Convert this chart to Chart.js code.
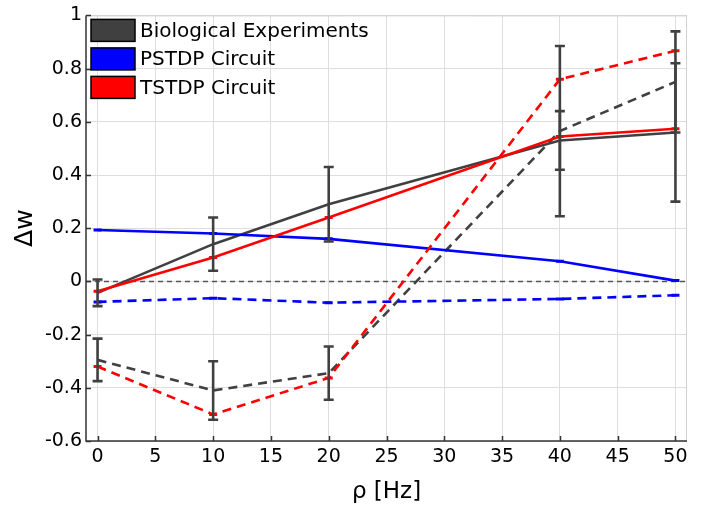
<!DOCTYPE html>
<html>
<head>
<meta charset="utf-8">
<script src="https://cdn.jsdelivr.net/npm/chart.js@4/dist/chart.umd.min.js"></script>
<style>
  html, body { margin: 0; padding: 0; background: #fff; }
  #wrap { width: 710px; height: 510px; }
</style>
</head>
<body>
<div id="wrap"><canvas id="chart" width="710" height="510"></canvas></div>
<script>
// DADOS
const freqs = [0, 10, 20, 40, 50];
const xTicks = [0, 5, 10, 15, 20, 25, 30, 35, 40, 45, 50];
const yTicks = [-0.6, -0.4, -0.2, 0, 0.2, 0.4, 0.6, 0.8, 1];

const bioSolid = [-0.043, 0.14, 0.29, 0.53, 0.56];
const bioSolidErr = [0.05, 0.10, 0.14, 0.11, 0.26];
const bioDashed = [-0.295, -0.41, -0.345, 0.565, 0.75];
const bioDashedErr = [0.08, 0.11, 0.10, 0.32, 0.19];

const pstdpSolid = [0.193, 0.18, 0.16, 0.076, 0.003];
const pstdpDashed = [-0.077, -0.063, -0.08, -0.066, -0.052];

const tstdpSolid = [-0.037, 0.09, 0.24, 0.545, 0.574];
const tstdpDashed = [-0.32, -0.50, -0.363, 0.76, 0.867];

const legendLabels = ['Biological Experiments', 'PSTDP Circuit', 'TSTDP Circuit'];

const GRAY = '#404040';
const BLUE = '#0000ff';
const RED = '#ff0000';
const FONT = 'DejaVu Sans';

const pts = (vals) => freqs.map((f, i) => ({ x: f, y: vals[i] }));

const serie = (vals, color, dashed, order, marker) => ({
  data: pts(vals),
  borderColor: color,
  backgroundColor: color,
  borderWidth: 2.6,
  borderDash: dashed ? [9, 6] : [],
  pointStyle: 'line',
  pointRadius: marker ? 4 : 0,
  pointBorderWidth: 3,
  pointBorderColor: color,
  tension: 0,
  fill: false,
  order: order
});

// plugin: linha do zero, barras de erro, ticks internos, moldura, legenda
const extras = {
  id: 'extras',
  beforeDatasetsDraw(chart) {
    const { ctx, chartArea: a, scales: { y } } = chart;
    const y0 = y.getPixelForValue(0);
    ctx.save();
    ctx.strokeStyle = '#555';
    ctx.lineWidth = 1.5;
    ctx.setLineDash([5, 4]);
    ctx.beginPath();
    ctx.moveTo(a.left, y0);
    ctx.lineTo(a.right, y0);
    ctx.stroke();
    ctx.restore();
  },
  afterDatasetsDraw(chart) {
    const { ctx, chartArea: a, scales: { x, y } } = chart;
    ctx.save();
    ctx.strokeStyle = GRAY;
    ctx.lineWidth = 2.6;
    ctx.setLineDash([]);
    const bars = (vals, errs) => {
      vals.forEach((v, i) => {
        const px = x.getPixelForValue(freqs[i]);
        const top = y.getPixelForValue(v + errs[i]);
        const bot = y.getPixelForValue(v - errs[i]);
        ctx.beginPath();
        ctx.moveTo(px, top); ctx.lineTo(px, bot);
        ctx.moveTo(px - 5, top); ctx.lineTo(px + 5, top);
        ctx.moveTo(px - 5, bot); ctx.lineTo(px + 5, bot);
        ctx.stroke();
      });
    };
    bars(bioSolid, bioSolidErr);
    bars(bioDashed, bioDashedErr);

    // moldura clara em cima e à direita
    ctx.strokeStyle = '#d0d0d0';
    ctx.lineWidth = 1;
    ctx.beginPath();
    ctx.moveTo(a.left, a.top + 0.5); ctx.lineTo(a.right, a.top + 0.5);
    ctx.moveTo(a.right - 0.5, a.top); ctx.lineTo(a.right - 0.5, a.bottom);
    ctx.stroke();

    // eixos e ticks internos
    ctx.strokeStyle = '#333';
    ctx.lineWidth = 1.5;
    ctx.beginPath();
    ctx.moveTo(a.left, a.top); ctx.lineTo(a.left, a.bottom); ctx.lineTo(a.right, a.bottom);
    xTicks.forEach(t => {
      const px = Math.round(x.getPixelForValue(t)) + 0.5;
      ctx.moveTo(px, a.bottom); ctx.lineTo(px, a.bottom - 5);
    });
    yTicks.forEach(t => {
      const py = Math.round(y.getPixelForValue(t)) + 0.5;
      ctx.moveTo(a.left, py); ctx.lineTo(a.left + 5, py);
    });
    ctx.stroke();

    // legenda
    const cores = [GRAY, BLUE, RED];
    ctx.font = '20px "' + FONT + '"';
    ctx.textBaseline = 'middle';
    ctx.textAlign = 'left';
    legendLabels.forEach((lab, i) => {
      const bx = a.left + 5, by = a.top + 4 + i * 28.5;
      ctx.fillStyle = cores[i];
      ctx.fillRect(bx, by, 44, 22);
      ctx.strokeStyle = '#000';
      ctx.lineWidth = 1.5;
      ctx.strokeRect(bx, by, 44, 22);
      ctx.fillStyle = '#000';
      ctx.fillText(lab, bx + 49, by + 12);
    });
    ctx.restore();
  }
};

new Chart(document.getElementById('chart'), {
  type: 'line',
  data: {
    datasets: [
      serie(bioSolid, GRAY, false, 6, false),
      serie(bioDashed, GRAY, true, 5, false),
      serie(pstdpSolid, BLUE, false, 4, true),
      serie(pstdpDashed, BLUE, true, 3, true),
      serie(tstdpSolid, RED, false, 2, true),
      serie(tstdpDashed, RED, true, 1, true)
    ]
  },
  options: {
    responsive: false,
    animation: false,
    layout: { padding: { top: 7, right: 23, left: 0, bottom: 0 } },
    plugins: {
      legend: { display: false },
      tooltip: { enabled: false }
    },
    scales: {
      x: {
        type: 'linear',
        min: -1,
        max: 51,
        afterBuildTicks: (s) => { s.ticks = xTicks.map(v => ({ value: v })); },
        afterFit: (s) => { s.height = 69; },
        grid: { color: '#dedede', drawTicks: false },
        border: { display: false },
        ticks: { padding: 5, color: '#000', font: { family: FONT, size: 19 } },
        title: {
          display: true,
          text: 'ρ [Hz]',
          color: '#000',
          font: { family: FONT, size: 23 },
          padding: { top: 5 }
        }
      },
      y: {
        min: -0.6,
        max: 1,
        afterBuildTicks: (s) => { s.ticks = yTicks.map(v => ({ value: v })); },
        afterFit: (s) => { s.width = 86; },
        grid: { color: '#dedede', drawTicks: false },
        border: { display: false },
        ticks: {
          padding: 4,
          color: '#000',
          font: { family: FONT, size: 19 },
          callback: (v) => String(Number(v.toFixed(1)))
        },
        title: {
          display: true,
          text: 'Δw',
          color: '#000',
          font: { family: FONT, size: 25 },
          padding: { top: 10, bottom: 0 }
        }
      }
    }
  },
  plugins: [extras]
});
</script>
</body>
</html>
